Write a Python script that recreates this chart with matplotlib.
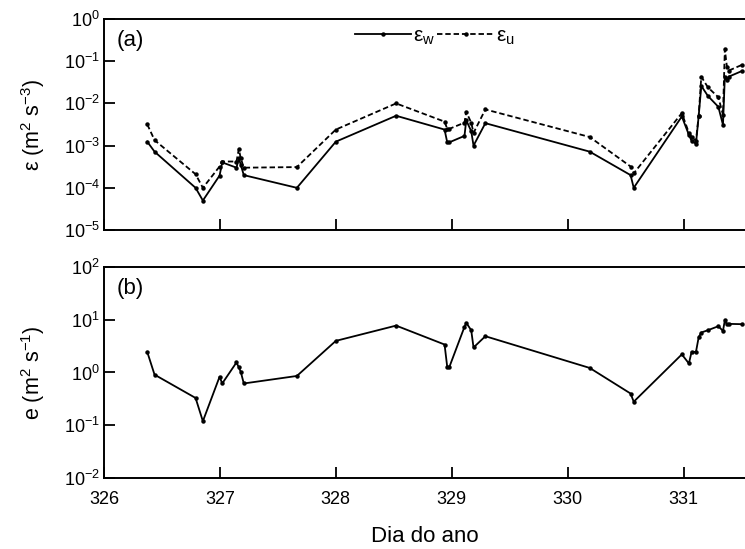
import numpy as np
import matplotlib
matplotlib.use("Agg")
import matplotlib.pyplot as plt
from matplotlib.ticker import LogLocator, LogFormatterSciNotation, NullLocator

plt.rcParams['font.family'] = ['Liberation Sans', 'DejaVu Sans']
plt.rcParams['mathtext.fontset'] = 'custom'
plt.rcParams['mathtext.rm'] = 'Liberation Sans'
plt.rcParams['mathtext.it'] = 'Liberation Sans:italic'

# dia do ano (fracionário)
dia = [326.373, 326.436, 326.79, 326.853, 326.997, 327.02, 327.143, 327.163,
       327.18, 327.206, 327.664, 328.0, 328.52, 328.938, 328.961, 328.98,
       329.11, 329.125, 329.168, 329.188, 329.29, 330.19, 330.543, 330.57,
       330.985, 331.046, 331.069, 331.107, 331.13, 331.153, 331.21, 331.30,
       331.34, 331.356, 331.374, 331.39, 331.50]

# taxa de dissipação (m2 s-3), componentes w e u
eps_w = [1.24e-3, 7.2e-4, 1.0e-4, 5e-5, 1.95e-4, 4e-4, 3e-4, 5e-4,
         3.5e-4, 2e-4, 1e-4, 1.24e-3, 5.1e-3, 2.4e-3, 1.2e-3, 1.2e-3,
         1.7e-3, 4e-3, 2.2e-3, 1e-3, 3.4e-3, 7.2e-4, 2e-4, 1e-4,
         4.9e-3, 1.8e-3, 1.3e-3, 1.1e-3, 4.9e-3, 2.6e-2, 1.5e-2, 8.3e-3,
         3.1e-3, 4.3e-2, 3.5e-2, 4.3e-2, 5.8e-2]
eps_u = [3.2e-3, 1.35e-3, 2.1e-4, 1.0e-4, 3.2e-4, 4.2e-4, 4.2e-4, 8.3e-4,
         5e-4, 3e-4, 3.1e-4, 2.4e-3, 1e-2, 3.7e-3, 2.5e-3, 2.5e-3,
         3.5e-3, 6.3e-3, 3.5e-3, 2e-3, 7.2e-3, 1.6e-3, 3.2e-4, 2.2e-4,
         5.9e-3, 2e-3, 1.6e-3, 1.3e-3, 5e-3, 4.3e-2, 2.4e-2, 1.4e-2,
         5.4e-3, 1.9e-1, 7.4e-2, 6e-2, 8.1e-2]

# energia cinética turbulenta (m2 s-1)
e_tke = [2.45, 0.91, 0.33, 0.12, 0.83, 0.62, 1.55, 1.25,
         1.03, 0.62, 0.86, 3.96, 7.7, 3.38, 1.28, 1.28,
         7.3, 8.7, 6.3, 2.97, 4.85, 1.22, 0.40, 0.28,
         2.2, 1.48, 2.45, 2.45, 4.6, 5.7, 6.3, 7.5,
         6.1, 9.7, 8.1, 8.3, 8.2]

xticks = [326, 327, 328, 329, 330, 331]

fig = plt.figure(figsize=(7.45, 5.49), dpi=100)
ax1 = fig.add_axes([0.1396, 0.581, 0.8604, 0.3844])
ax2 = fig.add_axes([0.1396, 0.1288, 0.8604, 0.3854])


def style_axis(ax, ylim, ylabel):
    ax.set_yscale('log')
    ax.set_ylim(*ylim)
    ax.set_xlim(326, 331.53)
    ax.set_xticks(xticks)
    ax.yaxis.set_major_locator(LogLocator(base=10, numticks=10))
    ax.yaxis.set_major_formatter(LogFormatterSciNotation())
    ax.yaxis.set_minor_locator(NullLocator())
    ax.xaxis.set_minor_locator(NullLocator())
    ax.tick_params(direction='in', length=8, width=1.3, labelsize=13)
    ax.tick_params(axis='y', pad=3)
    ax.tick_params(axis='x', pad=9)
    ax.spines['right'].set_visible(False)
    for s in ['left', 'bottom', 'top']:
        ax.spines[s].set_linewidth(1.4)
    ax.set_ylabel(ylabel, fontsize=15.5, labelpad=12)


ax1.plot(dia, eps_w, color='black', lw=1.3, marker='o', ms=2.2,
         label='ε$_\\mathregular{w}$')
ax1.plot(dia, eps_u, color='black', lw=1.3, ls=(0, (3, 1.6)), marker='o', ms=2.2,
         label='ε$_\\mathregular{u}$')
style_axis(ax1, (1e-5, 1), 'ε (m$^\\mathregular{2}$ s$^\\mathregular{-3}$)')
ax1.tick_params(labelbottom=False)
ax1.text(0.02, 0.90, '(a)', transform=ax1.transAxes, fontsize=16, va='center')
ax1.legend(loc='center', bbox_to_anchor=(0.516, 0.915), ncol=2, frameon=False,
           fontsize=15, handlelength=2.7, handletextpad=0.1, columnspacing=0.1,
           numpoints=1, borderpad=0)

ax2.plot(dia, e_tke, color='black', lw=1.3, marker='o', ms=2.2)
style_axis(ax2, (1e-2, 1e2), 'e (m$^\\mathregular{2}$ s$^\\mathregular{-1}$)')
ax2.text(0.02, 0.897, '(b)', transform=ax2.transAxes, fontsize=16, va='center')
ax2.set_xlabel('Dia do ano', fontsize=16, labelpad=13)

fig.savefig('out.png', dpi=100)
